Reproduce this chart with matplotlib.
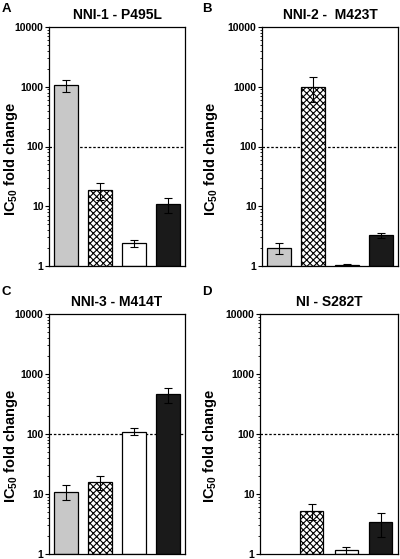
import matplotlib
matplotlib.use('Agg')
import matplotlib.pyplot as plt
import numpy as np

plt.rcParams['font.family'] = ['Liberation Sans', 'DejaVu Sans']
plt.rcParams['font.weight'] = 'bold'
plt.rcParams['mathtext.fontset'] = 'custom'
plt.rcParams['mathtext.rm'] = 'Liberation Sans:bold'
plt.rcParams['mathtext.default'] = 'rm'
plt.rcParams['hatch.linewidth'] = 0.8

# data (IC50 fold change, error = SD)
panel_letters = ['A', 'B', 'C', 'D']
panel_titles = ['NNI-1 - P495L', 'NNI-2 -  M423T', 'NNI-3 - M414T', 'NI - S282T']
vals_A = [1070, 18.5, 2.43, 10.8]
errs_A = [250, 6.0, 0.33, 3.0]
vals_B = [2.0, 1000, 1.05, 3.26]
errs_B = [0.42, 440, 0.02, 0.35]
vals_C = [10.9, 15.6, 110, 460]
errs_C = [3.0, 4.0, 15, 135]
vals_D = [np.nan, 5.3, 1.15, 3.4]
errs_D = [np.nan, 1.6, 0.15, 1.5]
ytick_vals = [1, 10, 100, 1000, 10000]
ytick_labels = ['1', '10', '100', '1000', '10000']

bar_faces = ['#c8c8c8', 'white', 'white', '#1a1a1a']
bar_hatches = [None, 'xxxxx', None, None]

fig = plt.figure(figsize=(4.0, 5.59), dpi=100)
# axes boxes in pixels: left, top, right, bottom
boxes = [(49, 27, 185, 266), (262, 27, 398, 266),
         (49, 314, 185, 554), (260, 314, 398, 554)]
letter_pos = [(2, 12), (202, 12), (2, 295), (202, 295)]
label_x = [-0.215, -0.31, -0.215, -0.30]
all_vals = [vals_A, vals_B, vals_C, vals_D]
all_errs = [errs_A, errs_B, errs_C, errs_D]

W, H = 400, 559
for k in range(4):
    l, t, r, b = boxes[k]
    ax = fig.add_axes([l / W, 1 - b / H, (r - l) / W, (b - t) / H])
    x = np.arange(4)
    vals = np.array(all_vals[k], dtype=float)
    errs = np.array(all_errs[k], dtype=float)
    ax.axhline(100, color='black', lw=0.9, ls=(0, (2, 1.5)), zorder=1)
    for i in range(4):
        if np.isnan(vals[i]):
            continue
        ax.bar(x[i], vals[i] - 1, bottom=1, width=0.68, color=bar_faces[i],
               edgecolor='black', linewidth=0.9, hatch=bar_hatches[i], zorder=2)
        ax.errorbar(x[i], vals[i], yerr=errs[i], fmt='none', ecolor='black',
                    elinewidth=0.8, capsize=3.2, capthick=0.8, zorder=3)
    ax.set_yscale('log')
    ax.set_ylim(1, 10000)
    ax.set_xlim(-0.5, 3.5)
    ax.set_xticks([])
    ax.set_yticks(ytick_vals)
    ax.set_yticklabels(ytick_labels)
    ax.tick_params(axis='y', which='major', labelsize=7.5, length=3, width=0.8, pad=1)
    ax.tick_params(axis='y', which='minor', length=1.8, width=0.6)
    for lab in ax.get_yticklabels():
        lab.set_fontweight('bold')
    for sp in ax.spines.values():
        sp.set_linewidth(0.9)
    ax.set_title(panel_titles[k], fontsize=10, fontweight='bold', pad=6)
    ax.set_ylabel('IC$_{50}$ fold change', fontsize=10.5, fontweight='bold')
    ax.yaxis.set_label_coords(label_x[k], 0.45)
    lx, ly = letter_pos[k]
    fig.text(lx / W, 1 - ly / H, panel_letters[k], fontsize=9.5,
             fontweight='bold', ha='left', va='baseline')

fig.savefig('out.png', dpi=100)
